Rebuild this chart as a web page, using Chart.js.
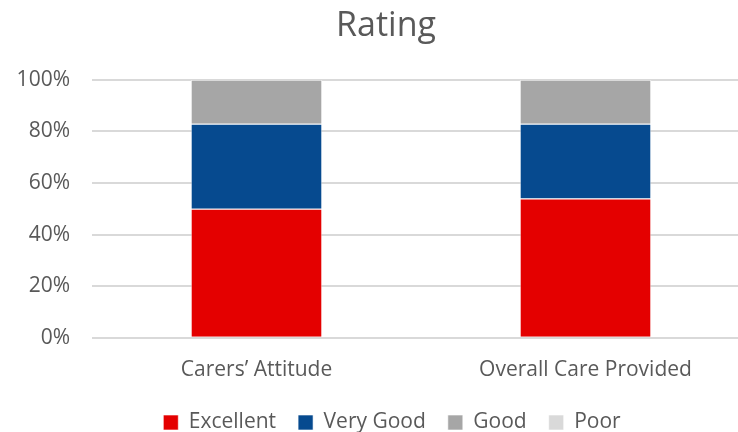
<!DOCTYPE html>
<html>
<head>
<meta charset="utf-8">
<script src="https://cdn.jsdelivr.net/npm/chart.js@4"></script>
<style>
  html, body { margin: 0; padding: 0; background: #fff; overflow: hidden; }
  #wrap { width: 772px; height: 443px; }
</style>
</head>
<body>
<div id="wrap"><canvas id="chartRating"></canvas></div>
<script>
var categories = ["Carers\u2019 Attitude", "Overall Care Provided"];
var excellent = [50, 54];
var veryGood = [33, 29];
var good = [17, 17];
var poor = [0, 0];
var yTicks = [0, 20, 40, 60, 80, 100];

var txt = '#595959';
var fontName = '"Open Sans", sans-serif';

function series(label, data, color) {
  return {
    label: label,
    data: data,
    backgroundColor: color,
    borderColor: 'rgba(255,255,255,0.6)',
    borderWidth: 1,
    barPercentage: 0.4,
    categoryPercentage: 1
  };
}

// nudge title and legend sideways, the plot stays put
var nudgeBoxes = {
  id: 'nudgeBoxes',
  afterLayout: function (chart) {
    if (chart.titleBlock) { chart.titleBlock.left += 5; chart.titleBlock.right += 5; }
    if (chart.legend) { chart.legend.left += 11; chart.legend.right += 11; }
  }
};

var ratingCanvas = document.getElementById("chartRating");

var barChart = new Chart(ratingCanvas, {
  type: 'bar',
  data: {
    labels: categories,
    datasets: [
      series('Excellent', excellent, '#e40000'),
      series('Very Good', veryGood, '#064a8f'),
      series('Good', good, '#a6a6a6'),
      series('Poor', poor, '#d9d9d9')
    ]
  },
  plugins: [nudgeBoxes],
  options: {
    responsive: true,
    maintainAspectRatio: false,
    animation: false,
    layout: { padding: { left: 12, right: 22, top: 0, bottom: 0 } },
    plugins: {
      title: {
        display: true,
        text: 'Rating',
        color: txt,
        font: { family: fontName, size: 34, weight: 'normal' },
        padding: { top: 6, bottom: 33 }
      },
      legend: {
        position: 'bottom',
        labels: {
          color: txt,
          font: { family: fontName, size: 21 },
          boxWidth: 15,
          boxHeight: 15,
          padding: 22
        }
      },
      tooltip: { enabled: false }
    },
    scales: {
      x: {
        stacked: true,
        grid: { display: false },
        border: { display: false },
        ticks: { color: txt, font: { family: fontName, size: 21 }, padding: 12 },
        afterFit: function (axis) { axis.height -= 5; }
      },
      y: {
        stacked: true,
        min: 0,
        max: 100,
        afterBuildTicks: function (axis) {
          axis.ticks = yTicks.map(function (v) { return { value: v }; });
        },
        afterFit: function (axis) { axis.width = 80; },
        grid: { color: '#d9d9d9', lineWidth: 2, drawTicks: false },
        border: { display: false },
        ticks: {
          color: txt,
          font: { family: fontName, size: 21 },
          padding: 22,
          callback: function (v) { return v + '%'; }
        }
      }
    }
  }
});
</script>
</body>
</html>
